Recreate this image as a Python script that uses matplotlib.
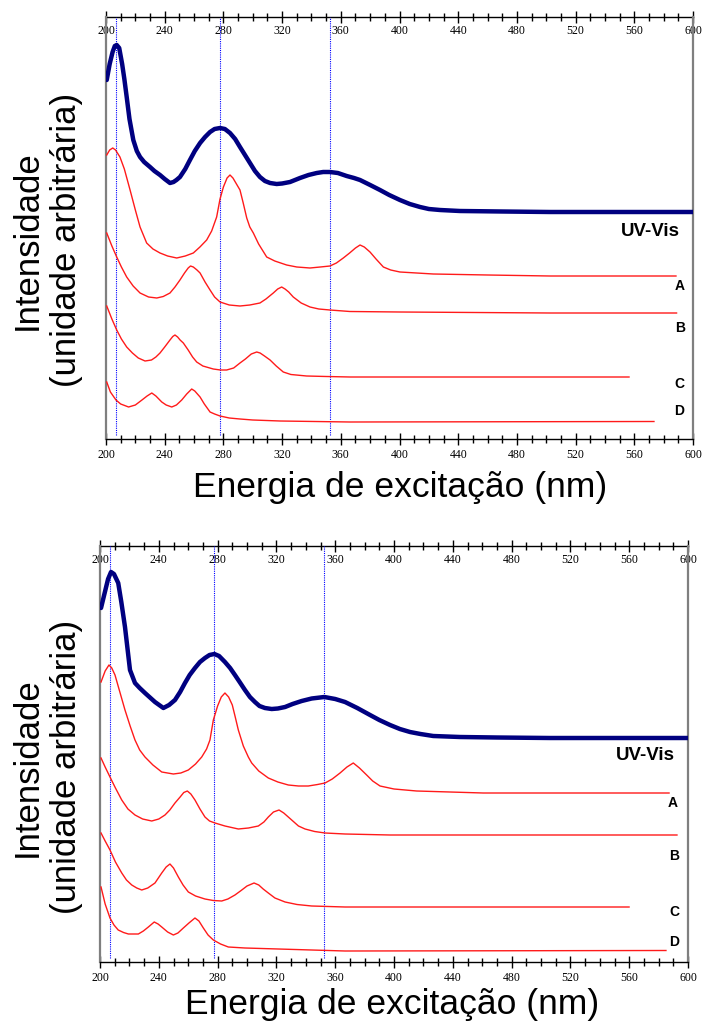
import numpy as np
import matplotlib
matplotlib.use('Agg')
import matplotlib.pyplot as plt
from matplotlib.ticker import MultipleLocator

plt.rcParams['font.family'] = ['Liberation Serif', 'DejaVu Serif']

# ---- upper panel: excitation spectra (arbitrary intensity, stacked) ----
uv1_nm = [200.5, 202.5, 204.5, 206.0, 207.3, 209.0, 211.0, 212.5, 214.1, 216.0,
          218.6, 221.0, 223.2, 226.0, 230.0, 233.0, 236.8, 240.0, 243.6, 246.0,
          248.0, 250.4, 254.0, 257.2, 260.5, 264.1, 267.5, 270.9, 274.0, 277.7,
          281.0, 284.5, 288.0, 291.3, 294.7, 298.1, 301.5, 304.9, 308.3, 311.8,
          316.3, 320.0, 325.4, 332.2, 338.0, 343.6, 348.0, 352.6, 358.0, 364.0,
          369.0, 373.1, 380.0, 386.7, 393.0, 400.3, 407.0, 414.0, 420.0, 427.6,
          441.2, 470.0, 502.6, 600.0]
uv1_int = [359, 375, 387, 393, 394, 391, 375, 360, 342, 320,
           299, 288, 282, 277, 272, 268, 264, 260, 256, 257,
           259, 262, 270, 279, 288, 296, 302, 307, 310, 311,
           310, 306, 300, 292, 284, 276, 268, 262, 258, 256,
           255, 255.5, 257, 261, 264, 266, 267, 267, 266, 263,
           261, 259, 254, 249, 244, 239, 235, 232, 230, 229,
           228, 227.5, 227, 227]

a1_nm = [200.5, 202.5, 204.6, 206.5, 209.5, 212.5, 216.4, 220.0, 223.2, 227.7,
         232.0, 236.8, 242.0, 248.2, 254.0, 259.5, 264.0, 268.6, 272.0, 275.4,
         277.7, 280.0, 282.5, 284.5, 286.5, 288.5, 291.3, 293.5, 295.9, 298.0,
         300.4, 304.0, 309.5, 315.0, 323.1, 330.0, 339.0, 346.0, 352.6, 357.0,
         361.7, 366.0, 370.0, 373.1, 376.0, 379.9, 384.0, 389.0, 394.0, 400.3,
         423.0, 460.0, 502.6, 588.4]
a1_int = [284, 289, 291, 289, 282, 270, 249, 229, 212, 196,
          190, 186, 183, 181, 183, 186, 192, 199, 208, 222,
          240, 252, 261, 264, 261, 256, 249, 236, 221, 212,
          206, 195, 182, 178, 174, 172, 171, 172, 173, 176,
          181, 186, 191, 194, 192, 187, 180, 172, 169, 167,
          165, 164, 163, 163]

b1_nm = [200.5, 204.0, 207.3, 210.5, 214.1, 218.5, 223.2, 229.0, 234.6, 239.0,
         243.6, 247.0, 250.4, 253.5, 256.0, 257.6, 259.5, 262.0, 264.1, 267.5,
         270.9, 274.0, 277.7, 284.0, 291.3, 298.0, 304.9, 309.0, 314.0, 317.0,
         319.7, 322.0, 324.5, 327.6, 333.0, 339.0, 345.0, 352.6, 366.2, 400.0,
         502.6, 588.8]
b1_int = [206, 193, 182, 172, 162, 153, 146, 142, 141, 142.5,
          146, 152, 159, 166, 171, 173, 172, 169, 166, 157,
          149, 142, 137, 134, 133, 134, 136, 140, 146, 150,
          152, 150, 147, 142, 136, 132, 130, 129, 127.5, 127,
          126, 126]

c1_nm = [200.5, 204.0, 207.3, 210.5, 214.1, 218.0, 222.0, 226.6, 231.0, 234.0,
         236.8, 240.0, 243.6, 245.5, 247.0, 248.8, 250.5, 252.7, 256.0, 259.0,
         261.8, 266.0, 273.1, 278.0, 282.2, 287.0, 291.3, 295.0, 299.0, 302.7,
         305.0, 308.0, 311.8, 316.0, 320.8, 326.0, 336.7, 350.0, 366.4, 556.4]
c1_int = [133, 120, 109, 100, 92, 86, 81, 78, 79, 82,
          86, 92, 99, 102.5, 104, 102, 99, 96, 89, 82,
          77, 73, 70, 69, 69, 71, 76, 80, 85, 87,
          86, 83, 79, 73, 67, 64.5, 63, 62.5, 62, 62]

d1_nm = [200.5, 203.0, 206.8, 210.0, 215.4, 220.0, 224.5, 228.0, 231.2, 234.0,
         238.0, 241.0, 244.8, 248.0, 251.6, 255.0, 258.4, 260.5, 264.1, 267.0,
         270.9, 274.0, 277.7, 284.0, 291.3, 300.0, 318.6, 366.3, 573.4]
d1_int = [57, 47, 39, 35, 32, 34, 39, 43, 46, 43,
          37, 34, 32, 34, 39, 45, 50, 48, 42, 35,
          27, 25, 23, 21, 20, 19, 18, 17, 17.5]

# ---- lower panel ----
uv2_nm = [200.7, 203.0, 205.5, 207.5, 209.5, 212.4, 214.5, 217.0, 220.4, 223.8,
          227.0, 230.6, 237.4, 243.1, 247.0, 251.0, 254.5, 257.8, 261.0, 264.6,
          268.0, 271.4, 274.5, 277.8, 281.0, 285.0, 288.5, 291.8, 295.0, 298.6,
          302.0, 305.4, 308.5, 312.2, 316.8, 321.0, 325.9, 331.0, 337.2, 344.0,
          352.6, 360.0, 366.7, 375.0, 383.7, 390.0, 397.3, 404.0, 410.9, 418.0,
          426.7, 444.9, 470.0, 506.1, 600.0]
uv2_int = [354, 368, 383, 390, 388, 379, 360, 335, 292, 279,
           274, 269, 260, 254, 257, 262, 270, 279, 287, 294,
           300, 304, 307, 308, 306, 300, 294, 287, 280, 272,
           265, 260, 256, 254, 253, 253.5, 255, 258, 261, 263.5,
           265, 263, 260, 254, 247, 242, 237, 233, 230, 228,
           226, 225, 224.5, 224, 224]

a2_nm = [200.7, 203.5, 206.1, 208.0, 210.2, 213.5, 217.0, 220.5, 223.8, 227.0,
         230.6, 236.0, 242.0, 249.9, 255.0, 260.1, 265.0, 269.2, 272.5, 274.8,
         277.1, 280.0, 282.5, 285.0, 287.5, 290.0, 292.0, 294.1, 297.5, 300.9,
         303.2, 308.0, 314.5, 321.0, 328.1, 335.0, 341.7, 348.0, 353.1, 358.0,
         363.3, 368.0, 372.3, 376.5, 381.4, 385.5, 390.5, 400.0, 415.4, 460.7,
         587.1]
a2_int = [280, 291, 297, 294, 287, 270, 252, 236, 222, 212,
          205, 197, 190, 188, 189, 192, 198, 205, 213, 222,
          242, 256, 265, 269, 265, 257, 245, 232, 216, 205,
          199, 191, 184, 180, 177, 176, 176, 177.5, 179, 183,
          189, 195, 199, 194, 187, 181, 176, 173, 171, 169,
          169]

b2_nm = [200.7, 203.5, 206.8, 210.5, 214.8, 219.0, 223.8, 229.0, 235.2, 240.0,
         244.2, 247.5, 251.0, 254.5, 257.0, 259.4, 261.8, 264.6, 268.0, 271.4,
         274.5, 278.2, 285.0, 294.1, 301.0, 307.7, 311.5, 314.5, 318.0, 321.8,
         325.0, 330.4, 335.0, 339.5, 346.0, 353.1, 366.7, 397.3, 592.5]
b2_int = [204, 195, 185, 174, 162, 153, 147, 143, 141, 143,
          147, 152, 159, 165, 169.5, 171, 168, 162, 153, 145,
          141, 139, 136, 133, 134, 136, 140, 145, 150, 152,
          149, 142, 136, 133, 130.5, 129, 128, 127, 127]

c2_nm = [200.7, 203.5, 206.8, 210.5, 214.8, 218.0, 221.6, 225.0, 228.4, 232.5,
         237.4, 242.0, 245.0, 247.6, 250.0, 253.3, 256.5, 260.1, 265.0, 271.4,
         277.0, 282.8, 287.0, 291.8, 296.0, 300.0, 304.8, 308.0, 311.0, 314.5,
         319.0, 325.9, 334.0, 344.0, 366.7, 559.9]
c2_int = [129, 121, 112, 100, 89, 82, 77, 74, 72, 74,
          79, 89, 95, 98, 94, 85, 77, 70, 66, 63,
          61.5, 61, 63, 67, 71.5, 76, 79, 77, 73, 69,
          64, 60, 57.5, 56, 55, 55]

d2_nm = [200.7, 203.5, 206.8, 209.5, 212.4, 216.0, 219.3, 226.1, 229.5, 232.9,
         236.9, 239.5, 242.0, 246.0, 249.9, 253.0, 256.7, 260.5, 264.6, 267.3,
         270.3, 273.5, 277.1, 282.0, 287.3, 298.6, 321.3, 366.7, 585.0]
d2_int = [75, 58, 44, 37, 32, 29.5, 28, 28, 31, 35,
          40, 38, 35, 30, 27, 29, 34, 39, 44, 41,
          34, 27, 22, 18, 15, 14, 13, 11, 11.5]

# reference wavelengths marked on both panels
marker_nm = [206.5, 277.5, 352.5]

series_names = ['UV-Vis', 'A', 'B', 'C', 'D']
ticks_nm = np.arange(200, 601, 40)

NAVY = '#000080'
RED = '#ff1a1a'
SANS = ['Liberation Sans', 'DejaVu Sans']


def spectra_panel(ax, curves, name_pos, ytop):
    uv, rest = curves[0], curves[1:]
    ax.plot(uv[0], uv[1], color=NAVY, linewidth=3.2, solid_capstyle='round',
            solid_joinstyle='round', zorder=3)
    for nm, inten in rest:
        ax.plot(nm, inten, color=RED, linewidth=1.0, zorder=3)

    for x in marker_nm:
        ax.axvline(x, ymin=0.01, ymax=1.0, color='#0000ff', linestyle=(0, (1, 1)),
                   linewidth=0.8, zorder=2)

    for name, (x, y) in zip(series_names, name_pos):
        ax.text(x, y, name, ha='center', va='center', family=SANS,
                fontweight='bold', fontsize=13.5 if name == 'UV-Vis' else 10)

    ax.set_xlim(200, 600)
    ax.set_ylim(0, ytop)
    ax.set_yticks([])
    ax.set_xticks(ticks_nm)
    ax.xaxis.set_minor_locator(MultipleLocator(10))
    ax.tick_params(axis='x', which='major', direction='inout', length=9,
                   width=1, pad=3, labelsize=8.5)
    ax.tick_params(axis='x', which='minor', direction='inout', length=6, width=1)

    top = ax.secondary_xaxis('top')
    top.set_xticks(ticks_nm)
    top.xaxis.set_minor_locator(MultipleLocator(10))
    top.tick_params(axis='x', which='major', direction='inout', length=9,
                    width=1, pad=-19, labelsize=8.5)
    top.tick_params(axis='x', which='minor', direction='inout', length=6, width=1)
    top.spines['top'].set_linewidth(1.0)

    ax.spines['top'].set_visible(False)
    ax.spines['bottom'].set_linewidth(1.0)
    for side in ('left', 'right'):
        ax.spines[side].set_color('#7f7f7f')
        ax.spines[side].set_linewidth(1.6)

    ax.set_xlabel('Energia de excitação (nm)', family=SANS, fontsize=25.5)
    ax.set_ylabel('Intensidade\n(unidade arbitrária)', family=SANS, fontsize=25,
                  linespacing=1.25)
    ax.yaxis.label.set_va('center')


fig = plt.figure(figsize=(7.04, 10.24), dpi=100)
ax1 = fig.add_axes([106 / 704, 1 - 439 / 1024, 587 / 704, 422 / 1024])
ax2 = fig.add_axes([100 / 704, 1 - 962 / 1024, 588 / 704, 416 / 1024])

spectra_panel(ax1,
              [(uv1_nm, uv1_int), (a1_nm, a1_int), (b1_nm, b1_int),
               (c1_nm, c1_int), (d1_nm, d1_int)],
              [(570.7, 208), (591.0, 153), (591.0, 111), (591.0, 55), (590.5, 28)],
              422)
spectra_panel(ax2,
              [(uv2_nm, uv2_int), (a2_nm, a2_int), (b2_nm, b2_int),
               (c2_nm, c2_int), (d2_nm, d2_int)],
              [(570.7, 207), (589.8, 159), (590.5, 106), (590.5, 50), (590.5, 20)],
              416)

ax1.xaxis.set_label_coords(0.501, -0.137)
ax1.xaxis.label.set_va('baseline')
ax1.yaxis.set_label_coords(-0.1005, 0.472)
ax2.xaxis.set_label_coords(0.497, -0.125)
ax2.xaxis.label.set_va('baseline')
ax2.yaxis.set_label_coords(-0.090, 0.469)

fig.savefig('out.png', dpi=100)
